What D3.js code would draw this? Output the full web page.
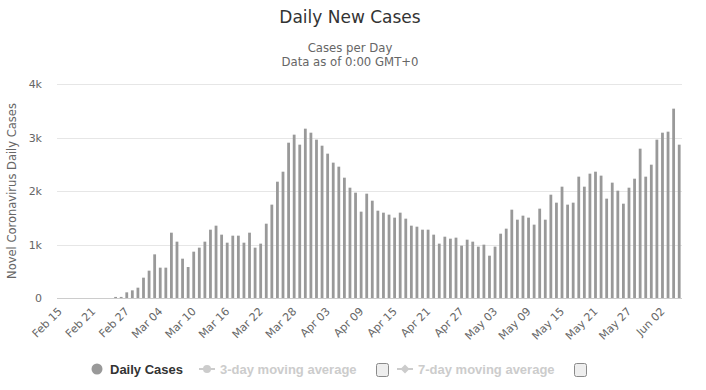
<!DOCTYPE html>
<html>
<head>
<meta charset="utf-8">
<script src="https://cdn.jsdelivr.net/npm/d3@7"></script>
<style>
  html, body { margin: 0; padding: 0; background: #fff; }
  svg { display: block; }
</style>
</head>
<body>
<svg id="chart" width="706" height="390"></svg>
<script>
// ---- DATA ----
const startDate = "2020-02-15";
const dailyCases = [
  0,0,0,0,0,0,0,0,0,0,
  20,20,106,143,193,380,511,816,567,567,
  1221,1053,735,579,866,941,1053,1277,1352,1184,
  1034,1165,1165,1034,1221,941,1016,1389,1745,2174,
  2361,2903,3053,2866,3165,3090,2960,2847,2698,2530,
  2455,2249,2062,1969,1614,1950,1819,1632,1595,1558,
  1502,1595,1483,1352,1333,1277,1277,1184,1016,1146,
  1109,1128,978,1090,1053,960,997,791,960,1202,
  1296,1651,1464,1539,1502,1371,1670,1464,1931,1782,
  2081,1745,1782,2268,2081,2324,2361,2287,1857,2156,
  2006,1763,2062,2230,2791,2268,2492,2960,3090,3109,
  3539,2866
];
const xTickLabels = ["Feb 15","Feb 21","Feb 27","Mar 04","Mar 10","Mar 16","Mar 22","Mar 28",
  "Apr 03","Apr 09","Apr 15","Apr 21","Apr 27","May 03","May 09","May 15","May 21","May 27","Jun 02"];
const yTicks = [0, 1000, 2000, 3000, 4000];
const yTickLabels = ["0", "1k", "2k", "3k", "4k"];
const titleText = "Daily New Cases";
const subtitleLines = ["Cases per Day", "Data as of 0:00 GMT+0"];
const yAxisTitle = "Novel Coronavirus Daily Cases";
const legendItems = ["Daily Cases", "3-day moving average", "7-day moving average"];

// ---- CATEGORIES ----
const fmt = d3.timeFormat("%b %d");
const start = d3.timeParse("%Y-%m-%d")(startDate);
const categories = dailyCases.map((_, i) => fmt(d3.timeDay.offset(start, i)));

// ---- LAYOUT ----
const svg = d3.select("#chart");
const FONT = "'DejaVu Sans', sans-serif";
const plot = { left: 57, right: 682, top: 84, bottom: 298 };

const x = d3.scaleBand().domain(categories).range([plot.left, plot.right]).padding(0);
const y = d3.scaleLinear().domain([0, 4000]).range([plot.bottom, plot.top]);

// Title / subtitle
svg.append("text").attr("x", 350).attr("y", 23).attr("text-anchor", "middle")
  .attr("font-family", FONT).attr("font-size", 17).attr("fill", "#333333").text(titleText);
svg.selectAll("text.sub").data(subtitleLines).enter().append("text").attr("class", "sub")
  .attr("x", 350).attr("y", (d, i) => 51.5 + i * 14.5).attr("text-anchor", "middle")
  .attr("font-family", FONT).attr("font-size", 11.7).attr("fill", "#666666").text(d => d);

// Gridlines
svg.append("g").selectAll("line").data(yTicks.filter(t => t > 0)).enter().append("line")
  .attr("x1", plot.left).attr("x2", plot.right)
  .attr("y1", d => Math.round(y(d)) + 0.5).attr("y2", d => Math.round(y(d)) + 0.5)
  .attr("stroke", "#e6e6e6").attr("stroke-width", 1);

// Y axis (labels only)
const yAxis = d3.axisLeft(y).tickValues(yTicks).tickFormat((d, i) => yTickLabels[i]).tickSize(0).tickPadding(0);
const yg = svg.append("g").attr("transform", `translate(42,0)`).call(yAxis);
yg.select(".domain").remove();
yg.selectAll("text").attr("font-family", FONT).attr("font-size", 11).attr("fill", "#666666");

// Y axis title
svg.append("text").attr("transform", `translate(16,${(plot.top + plot.bottom) / 2}) rotate(-90)`)
  .attr("text-anchor", "middle").attr("font-family", FONT).attr("font-size", 11.5)
  .attr("fill", "#666666").text(yAxisTitle);

// Bars
const bw = x.bandwidth() * 0.5;
svg.append("g").selectAll("rect").data(dailyCases).enter().append("rect")
  .attr("x", (d, i) => x(categories[i]) + (x.bandwidth() - bw) / 2)
  .attr("width", bw)
  .attr("y", d => y(d))
  .attr("height", d => y(0) - y(d))
  .attr("fill", "#999999");

// X axis line
svg.append("line").attr("x1", plot.left).attr("x2", plot.right)
  .attr("y1", plot.bottom + 0.5).attr("y2", plot.bottom + 0.5)
  .attr("stroke", "#cccccc").attr("stroke-width", 1);

// X axis labels via d3 axis
const xAxis = d3.axisBottom(x).tickValues(xTickLabels).tickSize(0).tickPadding(0);
const xg = svg.append("g").attr("transform", `translate(0,${plot.bottom})`).call(xAxis);
xg.select(".domain").remove();
xg.selectAll(".tick text")
  .attr("font-family", FONT).attr("font-size", 11).attr("fill", "#666666")
  .attr("text-anchor", "end").attr("dy", null)
  .attr("transform", "translate(3,14) rotate(-45)");

// Legend
const lg = svg.append("g").attr("font-family", "'Liberation Sans', Arial, sans-serif")
  .attr("font-size", 13).attr("font-weight", "bold");
lg.append("circle").attr("cx", 97).attr("cy", 369).attr("r", 5.5).attr("fill", "#999999");
lg.append("text").attr("x", 110).attr("y", 373.5).attr("fill", "#333333").text(legendItems[0]);

// 3-day
lg.append("line").attr("x1", 199).attr("x2", 215).attr("y1", 369).attr("y2", 369)
  .attr("stroke", "#cccccc").attr("stroke-width", 2);
lg.append("circle").attr("cx", 207).attr("cy", 369).attr("r", 4).attr("fill", "#cccccc");
lg.append("text").attr("x", 220).attr("y", 373.5).attr("fill", "#cccccc").text(legendItems[1]);
lg.append("rect").attr("x", 376.5).attr("y", 363.5).attr("width", 12).attr("height", 13).attr("rx", 2)
  .attr("fill", "#eeeeee").attr("stroke", "#8a8a8a").attr("stroke-width", 1);

// 7-day
lg.append("line").attr("x1", 397).attr("x2", 413).attr("y1", 369).attr("y2", 369)
  .attr("stroke", "#cccccc").attr("stroke-width", 2);
lg.append("path").attr("d", "M405,364.5 L409.5,369 L405,373.5 L400.5,369 Z").attr("fill", "#cccccc");
lg.append("text").attr("x", 418).attr("y", 373.5).attr("fill", "#cccccc").text(legendItems[2]);
lg.append("rect").attr("x", 574.5).attr("y", 363.5).attr("width", 12).attr("height", 13).attr("rx", 2)
  .attr("fill", "#eeeeee").attr("stroke", "#8a8a8a").attr("stroke-width", 1);
</script>
</body>
</html>
